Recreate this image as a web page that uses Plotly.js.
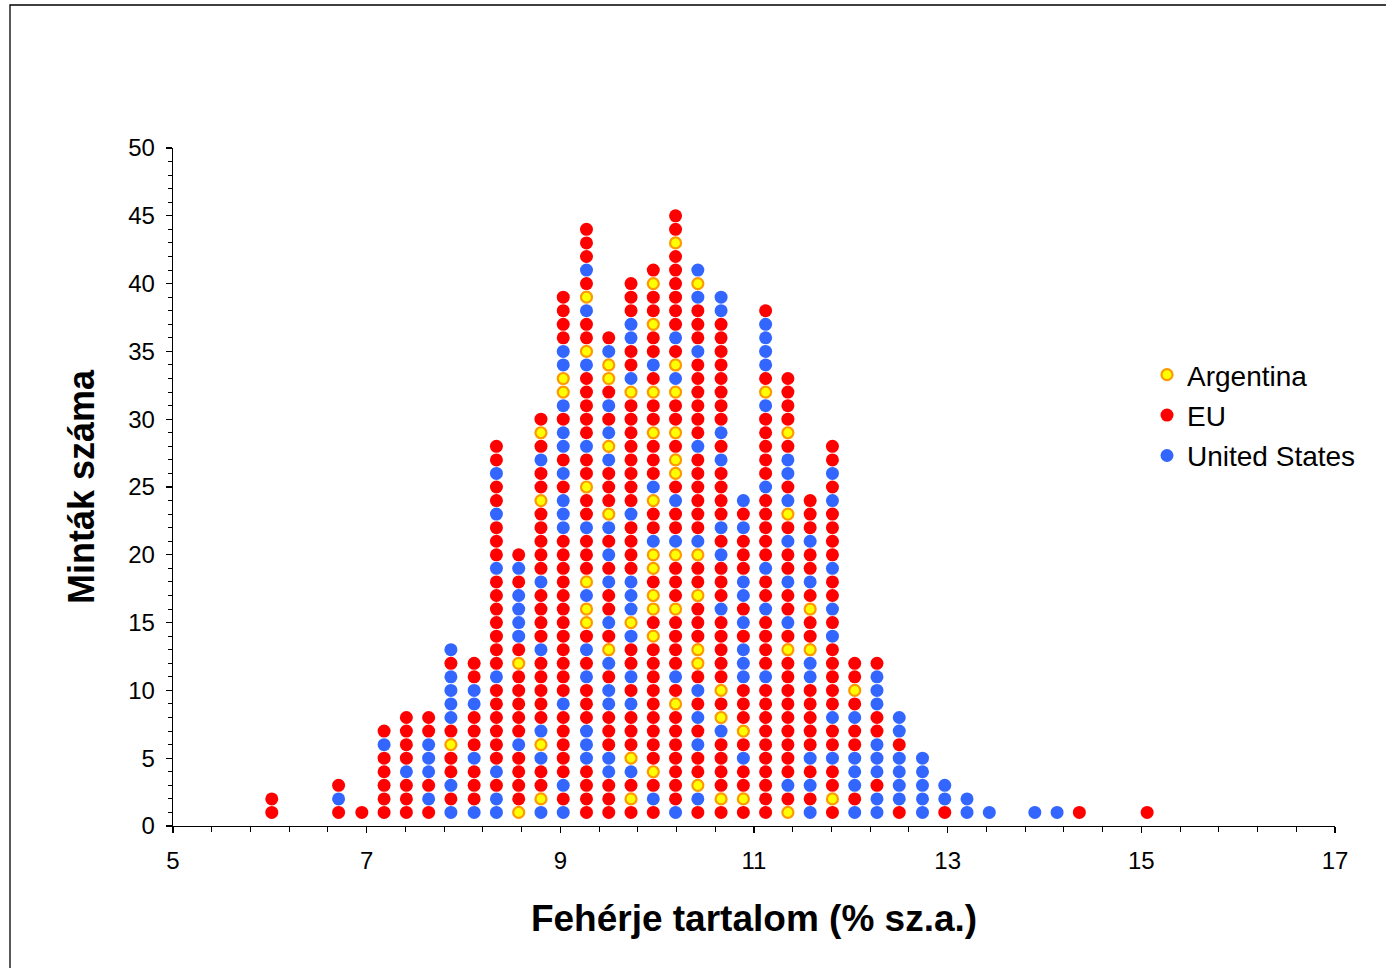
<!DOCTYPE html>
<html>
<head>
<meta charset="utf-8">
<script src="https://cdn.plot.ly/plotly-3.0.1.min.js"></script>
<style>
  html, body { margin: 0; padding: 0; background: #ffffff; }
  #chart { width: 1386px; height: 968px; }
</style>
</head>
<body>
<div id="chart"></div>
<script>
// Protein content bins (% d.m.)
const binCenters = [6.02, 6.71, 6.95, 7.18, 7.41, 7.64, 7.87, 8.11, 8.34, 8.57,
  8.80, 9.03, 9.27, 9.50, 9.73, 9.96, 10.19, 10.42, 10.66, 10.89,
  11.12, 11.35, 11.58, 11.81, 12.04, 12.27, 12.50, 12.74, 12.97, 13.20,
  13.43, 13.90, 14.13, 14.36, 15.06];

// Stacked samples in each bin, from bottom to top: A = Argentina, E = EU, U = United States
const stacks = [
  "EE",
  "EUE",
  "E",
  "EEEEEUE",
  "EEEUEEEE",
  "EUEUUUEE",
  "UEUEEAEUUUUEU",
  "UEEEUEEEUUEE",
  "UUEUEEEEEEUEEEEEEEUEEEUEEUEE",
  "AEEEEUEEEEEAEUUUUEUE",
  "UAEEUAUEEEEEUEEEEUEEEEEAEEUEAE",
  "UEUEEEEEUEEEEEEEEEEEEUUUEUEUUEUAAUUEEEE",
  "EEEEUUUEEEUEUEAAUAEEEUEEAEEUEEEEEUAEEUAEUEEE",
  "EEEUUEEEUUEUAEUEEUEUEUAEEEUAUEUEAAUE",
  "EAEUAEEEUEUEEUAUUUEEEEUEEEEEEEEAUEEUUEEE",
  "EUEAEEEEEEEEEAEAAEAAUEEAUEEEAEEAEUEEAEEAE",
  "UEEEEEEEAEUEEEEAEEEAUEEUEAAEAEEAUAEUEEEEEEAEE",
  "EUAEEUEUEUEAAEEEAEEAUEEEEEEUEEEEEEUEEEUAU",
  "EAEEEEUAEAEEEEEUEEEUEUEEEEUEUEEEEEEEEUU",
  "EAEEUEAEEEUUUEUEUUEEEUEU",
  "EEEEEEEEEEUEEEEUEEUEEEEEUEEEEEUAEUUUUE",
  "AEUEEEEEEEEEAEUEEUEEUEAUEUUEAEEEE",
  "UEUEUEEEEEUUAEEAEUEEUEEE",
  "EAEEUEEUEEEEEUEUEEUEEEEUEUEE",
  "UEUUUEEUEAEE",
  "UUEUUUEEUUUE",
  "EUUUUEUU",
  "UUUUU",
  "EUU",
  "UU",
  "U",
  "U",
  "U",
  "E",
  "E"
];

const seriesNames = ["Argentina", "EU", "United States"];
const seriesCodes = ["A", "E", "U"];
const yTicks = [0, 5, 10, 15, 20, 25, 30, 35, 40, 45, 50];
const xTicks = [5, 7, 9, 11, 13, 15, 17];

const markerStyles = {
  A: { color: "#FFFF00", size: 11, line: { color: "#FF9900", width: 2.2 } },
  E: { color: "#FF0000", size: 13, line: { width: 0 } },
  U: { color: "#3366FF", size: 13, line: { width: 0 } }
};

const traces = seriesCodes.map((code, si) => {
  const xs = [], ys = [];
  stacks.forEach((s, ci) => {
    for (let k = 0; k < s.length; k++) {
      if (s[k] === code) { xs.push(binCenters[ci]); ys.push(k + 1); }
    }
  });
  return {
    type: "scatter", mode: "markers", name: seriesNames[si],
    x: xs, y: ys, legendgroup: code,
    marker: markerStyles[code],
    hoverinfo: "x+y+name"
  };
});

const plotW = 1386 - 173 - 51;
const plotH = 968 - 148 - 142;

const layout = {
  width: 1386, height: 968,
  margin: { l: 173, r: 51, t: 148, b: 142 },
  paper_bgcolor: "#ffffff", plot_bgcolor: "#ffffff",
  font: { family: "Liberation Sans, Arial, Helvetica, sans-serif", color: "#000000" },
  showlegend: true,
  legend: {
    x: (1147 - 173) / plotW, xanchor: "left",
    y: (826 - 350) / plotH, yanchor: "top",
    font: { size: 28, color: "#000000" },
    tracegroupgap: 1,
    bgcolor: "rgba(0,0,0,0)"
  },
  xaxis: {
    range: [5, 17], tickvals: xTicks, ticktext: xTicks.map(String),
    showgrid: false, zeroline: false,
    showline: true, linecolor: "#000000", linewidth: 1.3,
    ticks: "outside", ticklen: 6, tickwidth: 1.3, tickcolor: "#000000",
    minor: { dtick: 0.4, tick0: 5, ticks: "outside", ticklen: 5, tickwidth: 1, tickcolor: "#000000", showgrid: false },
    tickfont: { size: 24 },
    ticklabelstandoff: 7,
    title: { text: "<b>Fehérje tartalom (% sz.a.)</b>", font: { size: 37 }, standoff: 32 },
    automargin: false, fixedrange: true
  },
  yaxis: {
    range: [0, 50], tickvals: yTicks, ticktext: yTicks.map(String),
    showgrid: false, zeroline: false,
    showline: true, linecolor: "#000000", linewidth: 1.3,
    ticks: "outside", ticklen: 6, tickwidth: 1.3, tickcolor: "#000000",
    minor: { dtick: 1, tick0: 0, ticks: "outside", ticklen: 4, tickwidth: 1, tickcolor: "#000000", showgrid: false },
    tickfont: { size: 24 },
    ticklabelstandoff: 6,
    title: { text: "<b>Minták száma</b>", font: { size: 36 }, standoff: 22 },
    automargin: false, fixedrange: true
  },
  shapes: [{
    type: "rect", xref: "paper", yref: "paper",
    x0: (10 - 173) / plotW, x1: 1.3,
    y0: -0.5, y1: (826 - 5) / plotH,
    line: { color: "#000000", width: 1.3 }, fillcolor: "rgba(0,0,0,0)", layer: "below"
  }]
};

Plotly.newPlot("chart", traces, layout, { displayModeBar: false, staticPlot: true });
</script>
</body>
</html>
